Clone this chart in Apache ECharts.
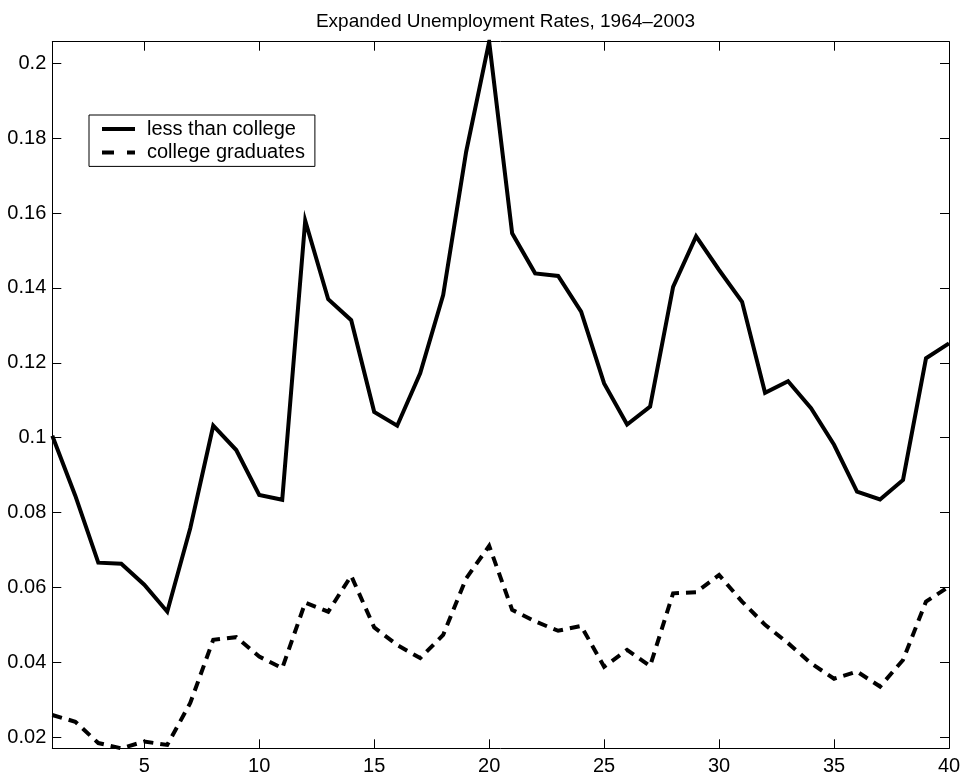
<!DOCTYPE html>
<html>
<head>
<meta charset="utf-8">
<title>Expanded Unemployment Rates, 1964–2003</title>
<script src="https://cdn.jsdelivr.net/npm/echarts@6/dist/echarts.min.js"></script>
<style>
  html, body { margin: 0; padding: 0; background: #fff; }
  #chart { width: 967px; height: 781px; }
</style>
</head>
<body>
<div id="chart"></div>
<script>
// Year index (1 = 1964 ... 40 = 2003)
const years = [1, 2, 3, 4, 5, 6, 7, 8, 9, 10, 11, 12, 13, 14, 15, 16, 17, 18, 19, 20,
               21, 22, 23, 24, 25, 26, 27, 28, 29, 30, 31, 32, 33, 34, 35, 36, 37, 38, 39, 40];

// Expanded unemployment rate, workers with less than a college degree
const lessThanCollege = [0.1005, 0.0845, 0.0666, 0.0663, 0.0607, 0.0535, 0.0758, 0.1032, 0.0967, 0.0847,
                         0.0834, 0.1580, 0.1370, 0.1314, 0.1069, 0.1032, 0.1172, 0.1381, 0.1764, 0.2058,
                         0.1546, 0.1439, 0.1432, 0.1337, 0.1145, 0.1035, 0.1083, 0.1403, 0.1538, 0.1448,
                         0.1363, 0.1120, 0.1151, 0.1079, 0.0981, 0.0856, 0.0835, 0.0887, 0.1212, 0.1252];

// Expanded unemployment rate, college graduates
const collegeGraduates = [0.0259, 0.0241, 0.0184, 0.0170, 0.0188, 0.0179, 0.0291, 0.0460, 0.0467, 0.0415,
                          0.0384, 0.0559, 0.0535, 0.0631, 0.0493, 0.0446, 0.0411, 0.0473, 0.0624, 0.0711,
                          0.0540, 0.0509, 0.0484, 0.0497, 0.0388, 0.0433, 0.0390, 0.0584, 0.0587, 0.0633,
                          0.0562, 0.0500, 0.0451, 0.0397, 0.0356, 0.0375, 0.0335, 0.0406, 0.0562, 0.0602];

const xTicks = [5, 10, 15, 20, 25, 30, 35, 40];
const xTickLabels = ['5', '10', '15', '20', '25', '30', '35', '40'];
const yTicks = [0.02, 0.04, 0.06, 0.08, 0.1, 0.12, 0.14, 0.16, 0.18, 0.2];
const yTickLabels = ['0.02', '0.04', '0.06', '0.08', '0.1', '0.12', '0.14', '0.16', '0.18', '0.2'];

const seriesNames = ['less than college', 'college graduates'];
const titleText = 'Expanded Unemployment Rates, 1964\u20132003';

const FONT = 'Liberation Sans, Arial, Helvetica, sans-serif';
const FONT_SIZE = 20;

function labelFor(ticks, labels) {
  return function (v) {
    let best = 0;
    for (let i = 1; i < ticks.length; i++) {
      if (Math.abs(ticks[i] - v) < Math.abs(ticks[best] - v)) best = i;
    }
    return labels[best];
  };
}

// Tight limits: the axes run exactly across the data range
const allValues = lessThanCollege.concat(collegeGraduates);
const yMin = Math.min.apply(null, allValues);
const yMax = Math.max.apply(null, allValues);

const boxLine = { show: true, onZero: false, lineStyle: { color: '#000', width: 1 } };

function xAxisDef(position, showLabels) {
  return {
    type: 'value', position: position, min: years[0], max: years[years.length - 1],
    axisLine: boxLine,
    axisTick: { show: true, inside: true, length: 9, customValues: xTicks, lineStyle: { color: '#000', width: 1 } },
    axisLabel: {
      show: showLabels, customValues: xTicks, formatter: labelFor(xTicks, xTickLabels),
      color: '#000', fontSize: FONT_SIZE, fontFamily: FONT, margin: 8
    },
    splitLine: { show: false }
  };
}

function yAxisDef(position, showLabels) {
  return {
    type: 'value', position: position, min: yMin, max: yMax,
    axisLine: boxLine,
    axisTick: { show: true, inside: true, length: 9, customValues: yTicks, lineStyle: { color: '#000', width: 1 } },
    axisLabel: {
      show: showLabels, customValues: yTicks, formatter: labelFor(yTicks, yTickLabels),
      color: '#000', fontSize: FONT_SIZE, fontFamily: FONT, margin: 6
    },
    splitLine: { show: false }
  };
}

const chart = echarts.init(document.getElementById('chart'), null, { renderer: 'canvas' });

chart.setOption({
  animation: false,
  backgroundColor: '#fff',
  textStyle: { fontFamily: FONT, color: '#000' },
  title: {
    text: titleText,
    left: 500.5, top: 7, textAlign: 'center',
    textStyle: { fontSize: 19, fontWeight: 'normal', color: '#000', fontFamily: FONT }
  },
  grid: { left: 52.3, right: 18, top: 41.7, bottom: 32.7, containLabel: false, outerBoundsMode: 'none' },
  xAxis: [xAxisDef('bottom', true), xAxisDef('top', false)],
  yAxis: [yAxisDef('left', true), yAxisDef('right', false)],
  legend: {
    orient: 'vertical', left: 89, top: 115,
    padding: [4, 10, 4, 11],
    itemWidth: 33, itemHeight: 20, itemGap: 3.4,
    borderColor: '#000', borderWidth: 1, backgroundColor: '#fff',
    // line sample only, no marker in the middle
    itemStyle: { opacity: 0 },
    lineStyle: { width: 4, color: '#000' },
    textStyle: { fontSize: FONT_SIZE, color: '#000', fontFamily: FONT, padding: [0, 0, 0, 7] },
    data: [
      { name: seriesNames[0], lineStyle: { width: 4, type: 'solid' } },
      { name: seriesNames[1], lineStyle: { width: 4, type: [12, 13] } }
    ]
  },
  series: [
    {
      name: seriesNames[0], type: 'line', xAxisIndex: 0, yAxisIndex: 0,
      showSymbol: false, symbol: 'none',
      lineStyle: { color: '#000', width: 4, type: 'solid', join: 'miter' },
      itemStyle: { color: '#000' },
      data: years.map((x, i) => [x, lessThanCollege[i]])
    },
    {
      name: seriesNames[1], type: 'line', xAxisIndex: 0, yAxisIndex: 0,
      showSymbol: false, symbol: 'none',
      lineStyle: { color: '#000', width: 4, type: [10, 7], join: 'miter' },
      itemStyle: { color: '#000' },
      data: years.map((x, i) => [x, collegeGraduates[i]])
    }
  ]
});
</script>
</body>
</html>
